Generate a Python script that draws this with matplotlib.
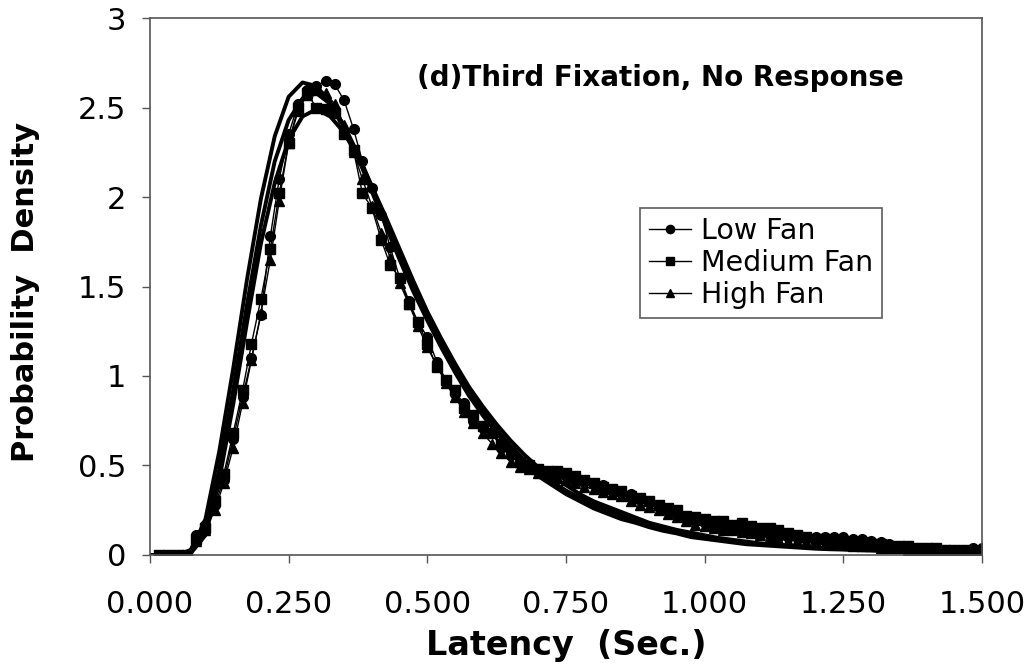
import matplotlib
matplotlib.use("Agg")
import matplotlib.pyplot as plt
from matplotlib.ticker import FormatStrFormatter

plt.rcParams['font.family'] = ['DejaVu Sans']

# observed latency bins (sec.)
latency = [
    0.017, 0.033, 0.050, 0.067, 0.083, 0.100, 0.117, 0.133, 0.150, 0.167,
    0.183, 0.200, 0.217, 0.233, 0.250, 0.267, 0.283, 0.300, 0.317, 0.333,
    0.350, 0.367, 0.383, 0.400, 0.417, 0.433, 0.450, 0.467, 0.483, 0.500,
    0.517, 0.533, 0.550, 0.567, 0.583, 0.600, 0.617, 0.633, 0.650, 0.667,
    0.683, 0.700, 0.717, 0.733, 0.750, 0.767, 0.783, 0.800, 0.817, 0.833,
    0.850, 0.867, 0.883, 0.900, 0.917, 0.933, 0.950, 0.967, 0.983, 1.000,
    1.017, 1.033, 1.050, 1.067, 1.083, 1.100, 1.117, 1.133, 1.150, 1.167,
    1.183, 1.200, 1.217, 1.233, 1.250, 1.267, 1.283, 1.300, 1.317, 1.333,
    1.350, 1.367, 1.383, 1.400, 1.417, 1.433, 1.450, 1.467, 1.483, 1.500,
]

low_fan = [
    0, 0, 0, 0, 0.11, 0.17, 0.28, 0.42, 0.65, 0.88,
    1.10, 1.34, 1.78, 2.10, 2.35, 2.52, 2.60, 2.62, 2.65, 2.63,
    2.54, 2.38, 2.20, 2.05, 1.90, 1.72, 1.55, 1.42, 1.30, 1.22,
    1.08, 0.98, 0.90, 0.85, 0.75, 0.71, 0.68, 0.60, 0.56, 0.52,
    0.50, 0.48, 0.46, 0.45, 0.44, 0.42, 0.41, 0.40, 0.39, 0.37,
    0.35, 0.34, 0.31, 0.30, 0.27, 0.25, 0.23, 0.21, 0.19, 0.18,
    0.16, 0.15, 0.14, 0.13, 0.12, 0.11, 0.11, 0.10, 0.10, 0.10,
    0.09, 0.10, 0.10, 0.10, 0.10, 0.09, 0.09, 0.08, 0.07, 0.06,
    0.05, 0.05, 0.04, 0.04, 0.04, 0.03, 0.03, 0.03, 0.04, 0.04,
]

medium_fan = [
    0, 0, 0, 0, 0.09, 0.15, 0.30, 0.45, 0.68, 0.92,
    1.18, 1.43, 1.71, 2.02, 2.30, 2.50, 2.58, 2.50, 2.49, 2.47,
    2.35, 2.26, 2.02, 1.94, 1.76, 1.62, 1.55, 1.40, 1.30, 1.18,
    1.05, 0.98, 0.92, 0.82, 0.78, 0.72, 0.68, 0.62, 0.58, 0.52,
    0.50, 0.48, 0.47, 0.47, 0.46, 0.44, 0.42, 0.40, 0.38, 0.37,
    0.36, 0.33, 0.32, 0.30, 0.28, 0.26, 0.25, 0.22, 0.21, 0.20,
    0.19, 0.19, 0.17, 0.18, 0.16, 0.15, 0.15, 0.14, 0.12, 0.11,
    0.10, 0.09, 0.09, 0.08, 0.08, 0.07, 0.07, 0.06, 0.06, 0.05,
    0.05, 0.05, 0.04, 0.04, 0.04, 0.03, 0.03, 0.03, 0.02, 0.02,
]

high_fan = [
    0, 0, 0, 0, 0.08, 0.14, 0.25, 0.40, 0.60, 0.85,
    1.09, 1.35, 1.65, 1.98, 2.30, 2.48, 2.57, 2.60, 2.58, 2.52,
    2.40, 2.25, 2.10, 1.95, 1.80, 1.66, 1.52, 1.40, 1.28, 1.16,
    1.06, 0.96, 0.88, 0.80, 0.74, 0.68, 0.62, 0.57, 0.52, 0.49,
    0.48, 0.46, 0.45, 0.43, 0.42, 0.40, 0.38, 0.37, 0.35, 0.34,
    0.33, 0.30, 0.28, 0.27, 0.25, 0.23, 0.21, 0.19, 0.17, 0.16,
    0.15, 0.14, 0.14, 0.13, 0.12, 0.11, 0.10, 0.09, 0.08, 0.08,
    0.07, 0.07, 0.06, 0.06, 0.06, 0.05, 0.05, 0.05, 0.04, 0.04,
    0.04, 0.03, 0.03, 0.03, 0.03, 0.03, 0.02, 0.02, 0.02, 0.02,
]

# model fits (thick lines)
fit_latency = [
    0.000, 0.025, 0.050, 0.075, 0.100, 0.125, 0.150, 0.175, 0.200, 0.225,
    0.250, 0.275, 0.300, 0.325, 0.350, 0.375, 0.400, 0.425, 0.450, 0.475,
    0.500, 0.525, 0.550, 0.575, 0.600, 0.625, 0.650, 0.675, 0.700, 0.725,
    0.750, 0.775, 0.800, 0.825, 0.850, 0.875, 0.900, 0.925, 0.950, 0.975,
    1.000, 1.025, 1.050, 1.075, 1.100, 1.125, 1.150, 1.175, 1.200, 1.225,
    1.250, 1.275, 1.300, 1.325, 1.350, 1.375, 1.400, 1.425, 1.450, 1.475,
    1.500,
]

fit_low = [
    0, 0, 0.00, 0.03, 0.20, 0.58, 1.04, 1.54, 1.99, 2.34,
    2.56, 2.64, 2.62, 2.53, 2.39, 2.22, 2.03, 1.84, 1.65, 1.47,
    1.31, 1.16, 1.02, 0.89, 0.78, 0.68, 0.59, 0.51, 0.44, 0.39,
    0.34, 0.30, 0.26, 0.23, 0.20, 0.18, 0.155, 0.135, 0.12, 0.10,
    0.09, 0.08, 0.07, 0.06, 0.055, 0.05, 0.045, 0.04, 0.035, 0.032,
    0.03, 0.027, 0.025, 0.023, 0.021, 0.02, 0.018, 0.017, 0.016, 0.015,
    0.014,
]

fit_medium = [
    0, 0, 0.00, 0.02, 0.14, 0.48, 0.92, 1.40, 1.84, 2.20,
    2.43, 2.55, 2.58, 2.52, 2.40, 2.24, 2.06, 1.87, 1.68, 1.50,
    1.33, 1.18, 1.04, 0.91, 0.80, 0.70, 0.61, 0.53, 0.46, 0.41,
    0.36, 0.32, 0.28, 0.25, 0.22, 0.19, 0.17, 0.15, 0.13, 0.115,
    0.10, 0.09, 0.08, 0.07, 0.06, 0.055, 0.05, 0.045, 0.04, 0.036,
    0.033, 0.03, 0.027, 0.025, 0.023, 0.021, 0.02, 0.018, 0.017, 0.016,
    0.015,
]

fit_high = [
    0, 0, 0.00, 0.015, 0.11, 0.42, 0.84, 1.30, 1.74, 2.08,
    2.32, 2.45, 2.49, 2.45, 2.36, 2.22, 2.06, 1.89, 1.71, 1.53,
    1.36, 1.21, 1.07, 0.94, 0.83, 0.73, 0.64, 0.56, 0.49, 0.44,
    0.39, 0.34, 0.30, 0.27, 0.24, 0.21, 0.18, 0.16, 0.14, 0.125,
    0.11, 0.095, 0.085, 0.075, 0.065, 0.058, 0.052, 0.046, 0.041, 0.037,
    0.034, 0.031, 0.028, 0.026, 0.024, 0.022, 0.02, 0.019, 0.018, 0.017,
    0.016,
]

x_ticks = [0.0, 0.25, 0.5, 0.75, 1.0, 1.25, 1.5]
y_ticks = [0, 0.5, 1, 1.5, 2, 2.5, 3]
y_tick_labels = ["0", "0.5", "1", "1.5", "2", "2.5", "3"]

fig = plt.figure(figsize=(10.32, 6.68), dpi=100)
ax = fig.add_axes([0.1453, 0.1692, 0.8063, 0.8038])

for fit in (fit_low, fit_medium, fit_high):
    ax.plot(fit_latency, fit, color='black', linewidth=2.8, solid_capstyle='round')

ax.plot(latency, low_fan, color='black', linewidth=1.0, marker='o', markersize=7,
        label="Low Fan")
ax.plot(latency, medium_fan, color='black', linewidth=1.0, marker='s', markersize=6.5,
        label="Medium Fan")
ax.plot(latency, high_fan, color='black', linewidth=1.0, marker='^', markersize=7.5,
        label="High Fan")

ax.set_xlim(0, 1.5)
ax.set_ylim(0, 3)
ax.set_xticks(x_ticks)
ax.xaxis.set_major_formatter(FormatStrFormatter('%.3f'))
ax.set_yticks(y_ticks)
ax.set_yticklabels(y_tick_labels)
ax.tick_params(direction='out', length=6, width=1, labelsize=22, color='#555555')
ax.tick_params(axis='x', pad=19)
ax.tick_params(axis='y', pad=11)

for spine in ax.spines.values():
    spine.set_color('#555555')
    spine.set_linewidth(1.2)

ax.set_xlabel("Latency  (Sec.)", fontsize=24, fontweight='bold')
ax.xaxis.label.set_va('center')
ax.xaxis.set_label_coords(0.5, -0.168)
ax.set_ylabel("Probability  Density", fontsize=22, fontweight='bold')
ax.yaxis.label.set_va('center')
ax.yaxis.set_label_coords(-0.150, 0.49)

ax.text(0.613, 0.888, "(d)Third Fixation, No Response", transform=ax.transAxes,
        ha='center', va='center', fontsize=20, fontweight='bold')

leg = ax.legend(loc='upper left', bbox_to_anchor=(0.589, 0.646), borderaxespad=0,
                fontsize=20.5, frameon=True, fancybox=False, handlelength=1.5,
                handletextpad=0.35, labelspacing=0.15, borderpad=0.3, markerscale=0.85)
leg.get_frame().set_edgecolor('#333333')
leg.get_frame().set_linewidth(1.2)

fig.savefig("out.png", dpi=100)
